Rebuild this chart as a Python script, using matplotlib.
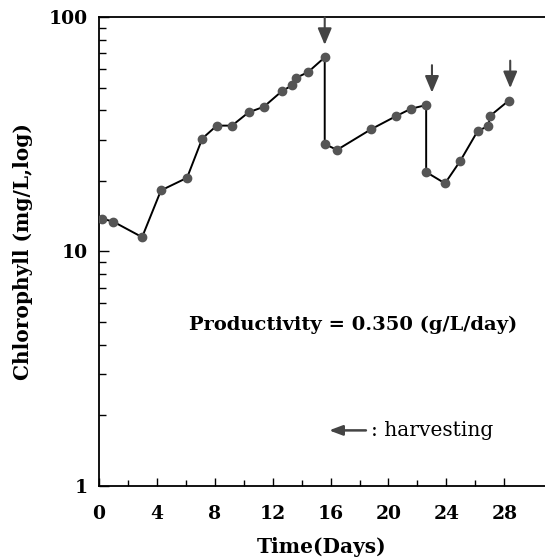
import matplotlib
matplotlib.use("Agg")
import matplotlib.pyplot as plt
from matplotlib.ticker import FixedLocator, LogLocator, NullFormatter

# chlorophyll readings (mg/L) vs. time in days
days = [0.2, 1.0, 3.0, 4.3, 6.1, 7.15, 8.15, 9.2, 10.35, 11.4, 12.65, 13.35, 13.65, 14.45, 15.6,
        15.6, 16.45, 18.8, 20.5, 21.55, 22.6,
        22.6, 23.9, 24.95, 26.15, 26.9, 27.0, 28.3]
chl = [13.8, 13.4, 11.5, 18.2, 20.6, 30.3, 34.4, 34.4, 39.2, 41.4, 48.3, 51.1, 55.1, 58.2, 67.3,
       28.7, 27.1, 33.2, 37.7, 40.6, 42.1,
       21.8, 19.5, 24.3, 32.6, 34.3, 37.8, 44.0]

# harvest arrows: day and the value just before harvesting
harvest_days = [15.6, 23.0, 28.4]
harvest_vals = [67.3, 42.1, 44.0]

xticks = [0, 4, 8, 12, 16, 20, 24, 28]

plt.rcParams['font.family'] = ['DejaVu Serif']

fig = plt.figure(figsize=(5.45, 5.6), dpi=100)
ax = fig.add_axes([0.181, 0.1327, 0.819, 0.8369])

ax.plot(days, chl, color='black', lw=1.4, marker='o', markersize=6,
        markerfacecolor='#555555', markeredgecolor='#555555', zorder=3)

# harvest markers
for d, v in zip(harvest_days, harvest_vals):
    ax.annotate('', xy=(d, v * 1.13), xytext=(d, v * 1.48),
                arrowprops=dict(arrowstyle='-|>,head_length=1.0,head_width=0.42',
                                color='#444444', lw=1.5, shrinkA=0, shrinkB=0))

ax.set_yscale('log')
ax.set_ylim(1, 100)
ax.set_xlim(0, 30.8)

ax.xaxis.set_major_locator(FixedLocator(xticks))
ax.xaxis.set_minor_locator(FixedLocator(range(2, 30, 4)))
ax.set_xticklabels([str(t) for t in xticks])
ax.yaxis.set_major_locator(FixedLocator([1, 10, 100]))
ax.yaxis.set_minor_locator(LogLocator(base=10, subs=range(2, 10)))
ax.yaxis.set_minor_formatter(NullFormatter())
ax.set_yticklabels(['1', '10', '100'])

ax.tick_params(axis='both', which='both', direction='in', labelsize=13.5)
ax.tick_params(axis='x', which='major', length=6, width=1, pad=14)
ax.tick_params(axis='x', which='minor', length=4, width=1)
ax.tick_params(axis='y', which='major', length=7, width=1, pad=8)
ax.tick_params(axis='y', which='minor', length=5, width=1)
for lab in ax.get_xticklabels() + ax.get_yticklabels():
    lab.set_fontweight('bold')

ax.spines['right'].set_visible(False)
for s in ['left', 'top', 'bottom']:
    ax.spines[s].set_linewidth(1.3)

ax.set_xlabel('Time(Days)', fontsize=14.5, fontweight='bold', labelpad=10)
ax.set_ylabel('Chlorophyll (mg/L,log)', fontsize=14.5, fontweight='bold', labelpad=11)

ax.text(0.57, 0.343, 'Productivity = 0.350 (g/L/day)', transform=ax.transAxes,
        ha='center', va='center', fontsize=14, fontweight='bold')

ax.annotate('', xy=(0.51, 0.118), xytext=(0.605, 0.118), xycoords='axes fraction',
            arrowprops=dict(arrowstyle='-|>,head_length=0.8,head_width=0.3',
                            color='#444444', lw=1.8))
ax.text(0.61, 0.118, ': harvesting', transform=ax.transAxes,
        ha='left', va='center', fontsize=14.5)

fig.savefig('out.png', dpi=100)
